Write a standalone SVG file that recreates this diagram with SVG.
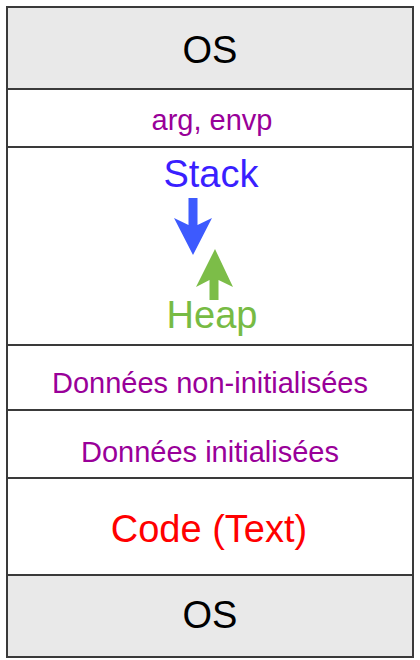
<svg xmlns="http://www.w3.org/2000/svg" width="420" height="660" viewBox="0 0 420 660">
  <style>
    .seg { stroke: #3a3a3a; stroke-width: 2; }
    .os { fill: #e9e9e9; }
    .wh { fill: #ffffff; }
    text { font-family: "Liberation Sans", Arial, sans-serif; text-anchor: middle; }
    .big { font-size: 38px; }
    .mid { font-size: 29px; }
    .purple { fill: #990099; }
  </style>
  <rect x="0" y="0" width="420" height="660" fill="#ffffff"/>
  <g id="os-top">
    <rect class="seg os" x="7" y="7" width="406" height="82"/>
    <text class="big" x="210" y="63" fill="#000000">OS</text>
  </g>
  <g id="args">
    <rect class="seg wh" x="7" y="89" width="406" height="58"/>
    <text class="mid purple" x="212" y="130">arg, envp</text>
  </g>
  <g id="stack-heap">
    <rect class="seg wh" x="7" y="147" width="406" height="198"/>
    <text class="big" x="211" y="187" fill="#3a1fff">Stack</text>
    <text class="big" x="212" y="328" fill="#77bb44">Heap</text>
  </g>
  <g id="bss">
    <rect class="seg wh" x="7" y="345" width="406" height="65"/>
    <text class="mid purple" x="210" y="393">Données non-initialisées</text>
  </g>
  <g id="data">
    <rect class="seg wh" x="7" y="410" width="406" height="68"/>
    <text class="mid purple" x="210" y="462">Données initialisées</text>
  </g>
  <g id="code">
    <rect class="seg wh" x="7" y="478" width="406" height="97"/>
    <text class="big" x="209" y="542" fill="#ff0000">Code (Text)</text>
  </g>
  <g id="os-bottom">
    <rect class="seg os" x="7" y="575" width="406" height="82"/>
    <text class="big" x="210" y="628" fill="#000000">OS</text>
  </g>
  <g id="connectors">
    <path d="M188.5,198 L197.5,198 L197.5,225 L212,218 L193,255 L174,218 L188.5,225 Z" fill="#3d5afe"/>
    <path d="M209.5,300 L218.5,300 L218.5,280 L233,287 L215,249 L196,287 L209.5,280 Z" fill="#7cbd48"/>
  </g>
</svg>
